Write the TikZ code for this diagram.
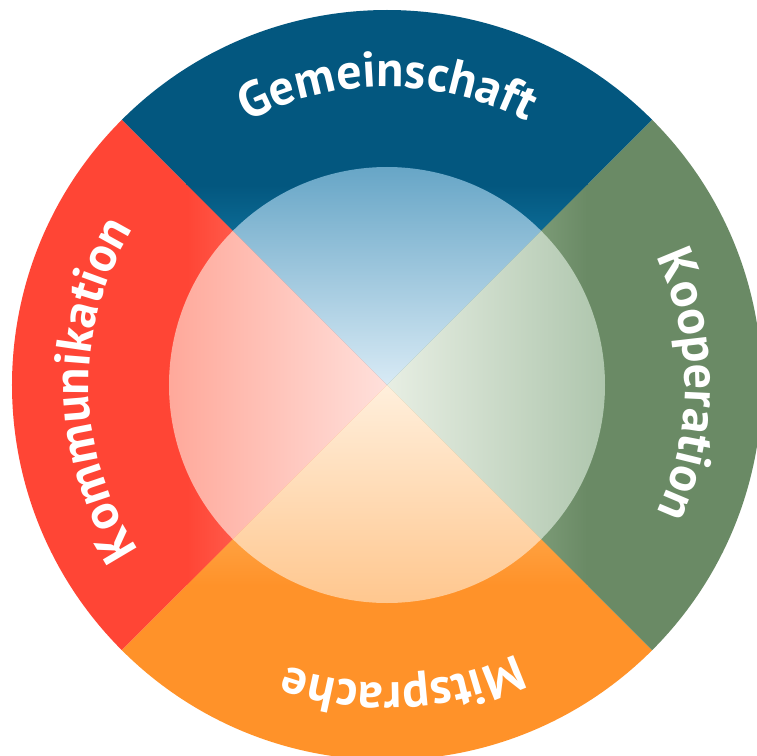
\documentclass[tikz,border=0pt]{standalone}
\usepackage{fontspec}
\setmainfont{PT Sans}
\usetikzlibrary{decorations.text}
\definecolor{bblue}{HTML}{03577F}
\definecolor{bbluelt}{HTML}{0C6B95}
\definecolor{iblueA}{HTML}{5C9FC2}
\definecolor{iblueB}{HTML}{D8EAF5}
\definecolor{bred}{HTML}{FF4535}
\definecolor{bredlt}{HTML}{FF5B4B}
\definecolor{iredA}{HTML}{FFA394}
\definecolor{iredB}{HTML}{FFE0DB}
\definecolor{bgreen}{HTML}{6A8A65}
\definecolor{bgreenlt}{HTML}{7C9B77}
\definecolor{igreenA}{HTML}{E7EEE3}
\definecolor{igreenB}{HTML}{A9C2A8}
\definecolor{borange}{HTML}{FF9229}
\definecolor{borangelt}{HTML}{FFA242}
\definecolor{iorangeA}{HTML}{FFEFDC}
\definecolor{iorangeB}{HTML}{FFC387}
\newcommand\lblfont{\fontsize{50}{50}\selectfont\bfseries}
\begin{document}
\begin{tikzpicture}[x=1pt,y=1pt,
  lbl/.style={decorate, decoration={text along path, text align=center, text color=white, text={|\lblfont|#1}}}]
\useasboundingbox (-387,-370) rectangle (370,385);
\clip (-387,-370) rectangle (370,385);
\def\R{375}
\def\r{218}
\def\tr{298}
% outer bands
\fill[bblue] (0,0) -- (45:\R) arc[start angle=45,end angle=135,radius=\R] -- cycle;
\fill[bred] (0,0) -- (135:\R) arc[start angle=135,end angle=225,radius=\R] -- cycle;
\fill[borange] (0,0) -- (225:\R) arc[start angle=225,end angle=315,radius=\R] -- cycle;
\fill[bgreen] (0,0) -- (-45:\R) arc[start angle=-45,end angle=45,radius=\R] -- cycle;
% band gradients near the inner circle
\begin{scope}
\clip (0,0) -- (45:\R) arc[start angle=45,end angle=135,radius=\R] -- cycle;
\shade[top color=bblue, bottom color=bbluelt] (-250,200) rectangle (250,150);
\fill[bbluelt] (-250,150) rectangle (250,0);
\end{scope}
\begin{scope}
\clip (0,0) -- (135:\R) arc[start angle=135,end angle=225,radius=\R] -- cycle;
\shade[left color=bred, right color=bredlt] (-200,-250) rectangle (-150,250);
\fill[bredlt] (-150,-250) rectangle (0,250);
\end{scope}
\begin{scope}
\clip (0,0) -- (-45:\R) arc[start angle=-45,end angle=45,radius=\R] -- cycle;
\shade[left color=bgreenlt, right color=bgreen] (150,-250) rectangle (200,250);
\fill[bgreenlt] (0,-250) rectangle (150,250);
\end{scope}
\begin{scope}
\clip (0,0) -- (225:\R) arc[start angle=225,end angle=315,radius=\R] -- cycle;
\shade[top color=borangelt, bottom color=borange] (-250,-150) rectangle (250,-200);
\fill[borangelt] (-250,-150) rectangle (250,0);
\end{scope}
% inner circle
\shade[top color=iblueA, bottom color=iblueB] (0,0) -- (45:\r) arc[start angle=45,end angle=135,radius=\r] -- cycle;
\shade[left color=iredA, right color=iredB] (0,0) -- (135:\r) arc[start angle=135,end angle=225,radius=\r] -- cycle;
\shade[left color=igreenA, right color=igreenB] (0,0) -- (-45:\r) arc[start angle=-45,end angle=45,radius=\r] -- cycle;
\shade[top color=iorangeA, bottom color=iorangeB] (0,0) -- (225:\r) arc[start angle=225,end angle=315,radius=\r] -- cycle;
% labels
\path[lbl=Gemeinschaft] (150:\tr) arc[start angle=150,end angle=30,radius=\tr];
\path[lbl=Kooperation] (60:\tr) arc[start angle=60,end angle=-60,radius=\tr];
\path[lbl=Mitsprache] (-27:\tr) arc[start angle=-27,end angle=-147,radius=\tr];
\path[lbl=Kommunikation] (241:\tr) arc[start angle=241,end angle=121,radius=\tr];
\end{tikzpicture}
\end{document}
